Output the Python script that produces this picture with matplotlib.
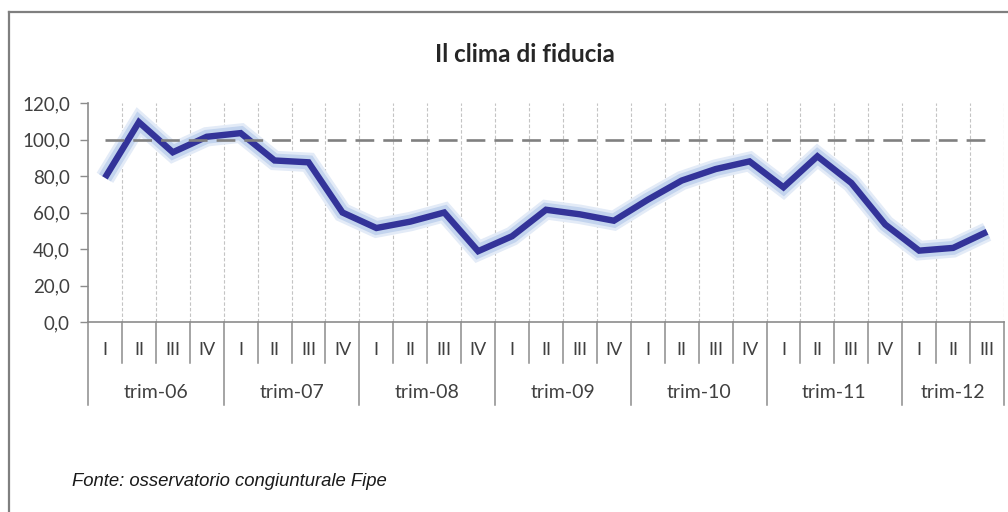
import matplotlib
matplotlib.use("Agg")
import matplotlib.pyplot as plt
import matplotlib.patheffects as pe
from matplotlib.lines import Line2D
from matplotlib.ticker import FuncFormatter, MultipleLocator

plt.rcParams['lines.scale_dashes'] = False

years = ["trim-06", "trim-07", "trim-08", "trim-09", "trim-10", "trim-11", "trim-12"]
quarters_per_year = [4, 4, 4, 4, 4, 4, 3]
quarter_names = ["I", "II", "III", "IV"]
clima = [79.0, 109.5, 93.0, 101.5,
         103.5, 88.5, 87.5, 60.0,
         51.5, 55.0, 60.0, 38.8,
         47.0, 61.5, 59.0, 55.5,
         67.0, 77.5, 83.8, 88.0,
         73.8, 90.8, 76.2, 53.4,
         39.1, 40.6, 49.4]
reference = [100.0] * len(clima)

W, H = 1008, 512
fig = plt.figure(figsize=(W / 100, H / 100), dpi=100)
ax = fig.add_axes([88 / W, 1 - 322 / H, (1004 - 88) / W, (322 - 103) / H])

n = len(clima)
x = list(range(n))
ax.set_xlim(-0.5, n - 0.5)
ax.set_ylim(0, 120)

axis_col = '#8c8c8c'
txt_col = '#404040'
font = 'Lato'

# vertical dotted gridlines at category boundaries
for b in range(1, n + 1):
    ax.axvline(b - 0.5, color='#c4c4c4', lw=0.8, ls=(0, (2.5, 1.5)), zorder=1)

# main line with glow
ax.plot(x, clima, color='#333399', lw=4.6, solid_joinstyle='miter', solid_capstyle='butt', zorder=3,
        path_effects=[pe.Stroke(linewidth=14, foreground='#e3ebf7'),
                      pe.Stroke(linewidth=10, foreground='#c3d4ee'),
                      pe.Normal()])
# reference dashed line
ax.plot(x, reference, color='#808080', lw=1.9, dashes=(13.5, 6.5), zorder=4)

# y axis
ax.yaxis.set_major_locator(MultipleLocator(20))
ax.yaxis.set_major_formatter(FuncFormatter(lambda v, p: f"{v:.1f}".replace('.', ',')))
ax.tick_params(axis='y', length=6, width=1, color=axis_col, pad=7, labelsize=13.5, labelcolor=txt_col)
for lab in ax.get_yticklabels():
    lab.set_fontfamily(font)
ax.set_xticks([])
for s in ['top', 'right']:
    ax.spines[s].set_visible(False)
for s in ['left', 'bottom']:
    ax.spines[s].set_color(axis_col)
    ax.spines[s].set_linewidth(1.2)

# category axis (two levels)
trans = ax.get_xaxis_transform()
axh = 322 - 103
y_q = -41 / axh
y_g = -83 / axh
idx = 0
bounds = [-0.5]
for yi, (yr, nq) in enumerate(zip(years, quarters_per_year)):
    for q in range(nq):
        ax.text(idx + q, -28 / axh, quarter_names[q], transform=trans, ha='center', va='center',
                fontsize=13, color=txt_col, family=font)
        if q > 0:
            ax.plot([idx + q - 0.5] * 2, [0, y_q], transform=trans, color=axis_col, lw=1.1, clip_on=False)
    ax.text(idx + nq / 2 - 0.5, -70 / axh, yr, transform=trans, ha='center', va='center',
            fontsize=14, color=txt_col, family=font)
    idx += nq
    bounds.append(idx - 0.5)
for b in bounds:
    ax.plot([b, b], [0, y_g], transform=trans, color=axis_col, lw=1.1, clip_on=False)

# title and source
fig.text(525 / W, 1 - 55 / H, "Il clima di fiducia", ha='center', va='center', fontsize=17.5,
         fontweight='bold', color='#262626', family=font)
fig.text(72 / W, 1 - 482 / H, "Fonte: osservatorio congiunturale Fipe", ha='left', va='center',
         fontsize=13.3, style='italic', color='#1a1a1a', family='Liberation Sans')

# outer frame
fig.add_artist(Line2D([9 / W, 9 / W], [0, 1 - 12 / H], color='#7f7f7f', lw=1.6))
fig.add_artist(Line2D([9 / W, 1], [1 - 12 / H, 1 - 12 / H], color='#7f7f7f', lw=1.6))

fig.savefig("out.png", dpi=100)
